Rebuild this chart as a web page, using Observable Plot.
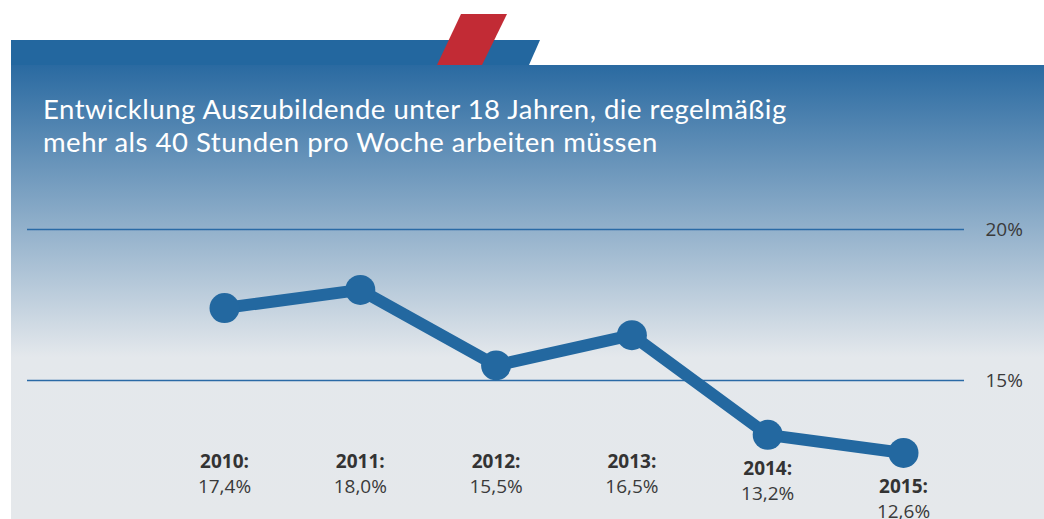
<!DOCTYPE html>
<html>
<head>
<meta charset="utf-8">
<script src="https://cdn.jsdelivr.net/npm/d3@7"></script>
<script src="https://cdn.jsdelivr.net/npm/@observablehq/plot@0.6"></script>
<style>
  html, body { margin: 0; padding: 0; background: #fff; }
  #wrap { position: relative; width: 1044px; height: 519px; overflow: hidden; font-family: "Open Sans", sans-serif; }
  .tab { position: absolute; left: 0; top: 0; width: 1044px; height: 519px; }
  #blue { background: #23679f; clip-path: polygon(11px 40px, 540px 40px, 529px 65px, 11px 65px); }
  #red { background: #c22b35; clip-path: polygon(461px 14px, 507px 14px, 482px 65px, 437px 65px); }
  #panel { position: absolute; left: 11px; top: 65px; width: 1033px; height: 454px;
    background: linear-gradient(to bottom, #2a6aa1 0px, #e4e8ec 292px, #e5e8eb 454px); }
  #title { position: absolute; left: 43px; top: 92px; color: #fff; font-family: Lato, "Open Sans", sans-serif;
    font-size: 27.5px; line-height: 33px; letter-spacing: 0.5px; }
  #chart { position: absolute; left: 0; top: 0; }
</style>
</head>
<body>
<div id="wrap">
  <div id="blue" class="tab"></div>
  <div id="red" class="tab"></div>
  <div id="panel"></div>
  <div id="title">Entwicklung Auszubildende unter 18 Jahren, die regelmäßig<br>mehr als 40 Stunden pro Woche arbeiten müssen</div>
  <div id="chart"></div>
</div>
<script>
const years = [2010, 2011, 2012, 2013, 2014, 2015];
const values = [17.4, 18.0, 15.5, 16.5, 13.2, 12.6];
const valueLabels = ["17,4%", "18,0%", "15,5%", "16,5%", "13,2%", "12,6%"];
const gridTicks = [15, 20];

const data = years.map((y, i) => ({
  year: y, value: values[i], label: valueLabels[i],
  labelPos: Math.min(12.25, values[i] - 1.2)
}));

const blue = "#2368a0";
const chart = Plot.plot({
  width: 1044, height: 519,
  marginLeft: 27, marginRight: 80, marginTop: 0, marginBottom: 0,
  style: { background: "transparent", fontFamily: "'Open Sans', sans-serif", color: "#333" },
  x: { domain: [2010, 2015], range: [224, 903], axis: null },
  y: { domain: [15, 20], range: [380, 229] },
  marks: [
    Plot.ruleY(gridTicks, { stroke: "#2a6aa6", strokeWidth: 1.3 }),
    Plot.axisY(gridTicks, { anchor: "right", tickSize: 0, tickPadding: 21, fontSize: 19,
      tickFormat: d => d + "%", fill: "#3a3a3a", label: null }),
    Plot.line(data, { x: "year", y: "value", stroke: blue, strokeWidth: 12, strokeLinejoin: "round" }),
    Plot.dot(data, { x: "year", y: "value", r: 15, fill: blue, stroke: "none" }),
    Plot.text(data, { x: "year", y: "labelPos", text: d => d.year + ":", fontWeight: "bold",
      fontSize: 19, fill: "#333", lineAnchor: "bottom", dy: 4 }),
    Plot.text(data, { x: "year", y: "labelPos", text: "label",
      fontSize: 19, fill: "#3a3a3a", lineAnchor: "bottom", dy: 29 })
  ]
});
document.getElementById("chart").appendChild(chart);
</script>
</body>
</html>
